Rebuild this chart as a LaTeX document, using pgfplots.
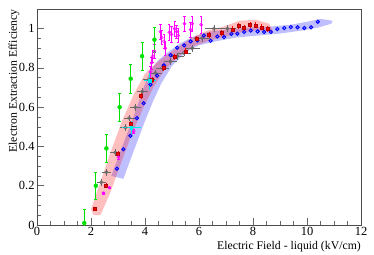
\documentclass[border=0pt]{standalone}
\usepackage{fontspec}
\setmainfont{Liberation Serif}
\usepackage{pgfplots}
\pgfplotsset{compat=1.18}
\definecolor{rgreen}{RGB}{0,225,0}
\definecolor{rmag}{RGB}{255,0,255}
\definecolor{rcyan}{RGB}{0,235,235}
\definecolor{rgrey}{RGB}{105,105,105}
\definecolor{rblue}{RGB}{0,0,255}
\definecolor{rred}{RGB}{255,0,0}
\begin{document}
\begin{tikzpicture}
\begin{axis}[
  at={(0,0)}, anchor=south west,
  scale only axis, width=324bp, height=216bp,
  xmin=0, xmax=12, ymin=0, ymax=1.1,
  xtick={0,2,4,6,8,10,12}, ytick={0,0.2,0.4,0.6,0.8,1},
  yticklabels={0,0.2,0.4,0.6,0.8,1},
  minor x tick num=3, minor y tick num=3,
  xtick pos=bottom, ytick pos=left, tick align=inside,
  major tick length=7bp, minor tick length=4bp,
  axis line style={black!70, line width=0.7bp},
  every tick/.style={black!60, line width=0.6bp},
  /pgf/number format/assume math mode=true,
  ticklabel style={font=\fontsize{12.5}{13}\selectfont},
  xticklabel style={yshift=1.5bp},
  yticklabel style={xshift=1bp},
  xlabel={Electric Field - liquid (kV/cm)},
  ylabel={Electron Extraction Efficiency},
  label style={font=\fontsize{11.8}{13}\selectfont},
  xlabel style={at={(axis description cs:1,-0.1)}, anchor=east, inner sep=0pt},
  ylabel style={at={(axis description cs:-0.071,1)}, anchor=east, inner sep=0pt},
  clip=true,
]
% blue band
\addplot[fill=rblue, fill opacity=0.25, draw=none] coordinates {
(2.75,0.25)(3.05,0.36)(3.35,0.47)(3.65,0.58)(3.95,0.7)(4.2,0.79)(4.5,0.84)(4.8,0.875)(5.3,0.925)(5.8,0.96)(6.4,0.985)(7.0,0.995)(7.8,1.005)(8.6,1.01)(9.4,1.02)(10.0,1.035)(10.5,1.05)(10.95,1.04)
(10.9,1.025)(10.4,1.005)(9.8,0.99)(9.0,0.975)(8.2,0.965)(7.4,0.955)(6.6,0.935)(6.0,0.915)(5.5,0.88)(5.0,0.81)(4.6,0.72)(4.3,0.63)(4.0,0.53)(3.7,0.42)(3.4,0.31)(3.2,0.235)
} --cycle;
% red band
\addplot[fill=rred, fill opacity=0.25, draw=none] coordinates {
(2.0,0.08)(2.3,0.2)(2.7,0.36)(3.15,0.53)(3.6,0.67)(4.0,0.77)(4.5,0.835)(5.1,0.895)(5.7,0.95)(6.3,0.99)(6.9,1.01)(7.5,1.04)(8.1,1.045)(8.6,1.025)
(8.75,0.985)(8.1,0.99)(7.5,0.98)(7.0,0.96)(6.4,0.94)(5.8,0.91)(5.2,0.855)(4.7,0.785)(4.35,0.71)(3.95,0.6)(3.5,0.46)(3.1,0.31)(2.7,0.16)(2.35,0.05)(2.1,0.05)
} --cycle;
% grey
\addplot[rgrey, only marks, mark=o, mark size=1.7pt, line width=0.6pt,
  error bars/.cd, x dir=both, x explicit, y dir=both, y explicit,
  error bar style={rgrey, line width=0.6pt}, error mark options={rgrey, mark size=1.5pt}]
coordinates {
(2.38,0.218) +- (0.12,0.01)
(2.57,0.269) +- (0.12,0.01)
(2.9,0.369) +- (0.13,0.01)
(3.27,0.496) +- (0.14,0.01)
(3.42,0.545) +- (0.14,0.01)
(3.64,0.6) +- (0.15,0.01)
(3.9,0.68) +- (0.15,0.01)
(4.15,0.74) +- (0.16,0.01)
(4.39,0.774) +- (0.17,0.01)
(4.64,0.80) +- (0.18,0.01)
(4.94,0.833) +- (0.19,0.01)
(5.2,0.86) +- (0.2,0.01)
(5.44,0.876) +- (0.21,0.01)
(5.75,0.90) +- (0.22,0.01)
(6.12,0.952) +- (0.24,0.01)
(6.55,1.0) +- (0.26,0.01)
(7.05,1.0) +- (0.28,0.01)
};
% blue
\addplot[rblue, only marks, mark=o, mark size=1.6pt, line width=1pt]
coordinates {
(2.96,0.287)(3.2,0.386)(3.46,0.454)(3.7,0.544)(3.95,0.62)(4.2,0.715)(4.45,0.76)(4.7,0.813)(4.95,0.865)(5.19,0.903)(5.45,0.915)(5.69,0.935)(5.94,0.94)(6.18,0.965)(6.43,0.938)(6.68,0.96)(6.93,0.957)(7.2,0.973)(7.42,0.974)(7.67,0.983)(7.92,0.99)(8.17,0.986)(8.41,0.983)(8.66,0.983)(8.9,0.998)(9.16,1.003)(9.4,1.008)(9.65,1.007)(9.9,1.003)(10.15,1.007)(10.4,1.035)
};
% red
\addplot[rred, only marks, mark=square*, mark size=1.5pt, mark options={draw=rred!70!black, fill=rred},
  error bars/.cd, y dir=both, y explicit, error bar style={rred, line width=0.6pt}, error mark=none]
coordinates {
(2.13,0.082) +- (0,0.01)
(2.55,0.2) +- (0,0.012)
(3.0,0.364) +- (0,0.015)
(3.47,0.515) +- (0,0.015)
(3.85,0.658) +- (0,0.015)
(4.26,0.74) +- (0,0.015)
(4.68,0.80) +- (0,0.015)
(5.1,0.855) +- (0,0.015)
(5.5,0.885) +- (0,0.015)
(5.9,0.95) +- (0,0.015)
(6.37,0.967) +- (0,0.015)
(6.83,0.978) +- (0,0.015)
(7.24,0.997) +- (0,0.015)
(7.46,1.015) +- (0,0.015)
(7.67,1.003) +- (0,0.015)
(7.89,1.02) +- (0,0.015)
(8.1,1.017) +- (0,0.015)
(8.31,1.007) +- (0,0.015)
(8.54,1.0) +- (0,0.015)
};
% magenta
\addplot[rmag, only marks, mark=o, mark size=1.5pt, line width=0.6pt,
  error bars/.cd, y dir=both, y explicit, error bar style={rmag, line width=0.8pt}, error mark options={rmag, rotate=90, mark size=1.2pt}]
coordinates {
(2.46,0.162) +- (0,0.005)
(2.68,0.19) +- (0,0.005)
(3.02,0.345) +- (0,0.008)
(3.58,0.476) +- (0,0.01)
(4.2,0.78) +- (0,0.03)
(4.24,0.825) +- (0,0.03)
(4.29,0.86) +- (0,0.03)
(4.35,0.885) +- (0,0.035)
(4.57,0.985) +- (0,0.04)
(4.62,0.955) +- (0,0.035)
(4.7,0.935) +- (0,0.035)
(4.75,0.90) +- (0,0.035)
(4.9,0.982) +- (0,0.04)
(4.98,0.97) +- (0,0.04)
(5.1,1.0) +- (0,0.04)
(5.17,0.985) +- (0,0.035)
(5.23,0.965) +- (0,0.035)
(5.46,1.025) +- (0,0.04)
(5.69,0.995) +- (0,0.04)
(5.75,1.025) +- (0,0.04)
(6.08,1.02) +- (0,0.045)
};
% green
\addplot[rgreen, only marks, mark=*, mark size=2pt,
  error bars/.cd, y dir=both, y explicit, error bar style={rgreen, line width=1pt}, error mark options={rgreen, rotate=90, mark size=1.5pt}]
coordinates {
(1.75,0.01) +- (0,0.07)
(2.18,0.20) +- (0,0.07)
(2.57,0.39) +- (0,0.07)
(3.06,0.60) +- (0,0.072)
(3.47,0.745) +- (0,0.072)
(3.89,0.86) +- (0,0.07)
(4.35,0.944) +- (0,0.065)
};
% cyan
\addplot[rcyan, only marks, mark=square*, mark size=1.2pt,
  error bars/.cd, x dir=both, x explicit, y dir=both, y explicit, error bar style={rcyan, line width=1.2pt}, error mark=none]
coordinates {
(3.5,0.496) +- (0.37,0.035)
(4.17,0.735) +- (0.22,0.045)
};
\end{axis}
\pgfresetboundingbox
\path (-37bp,-30bp) rectangle (337bp,225bp);
\end{tikzpicture}
\end{document}
